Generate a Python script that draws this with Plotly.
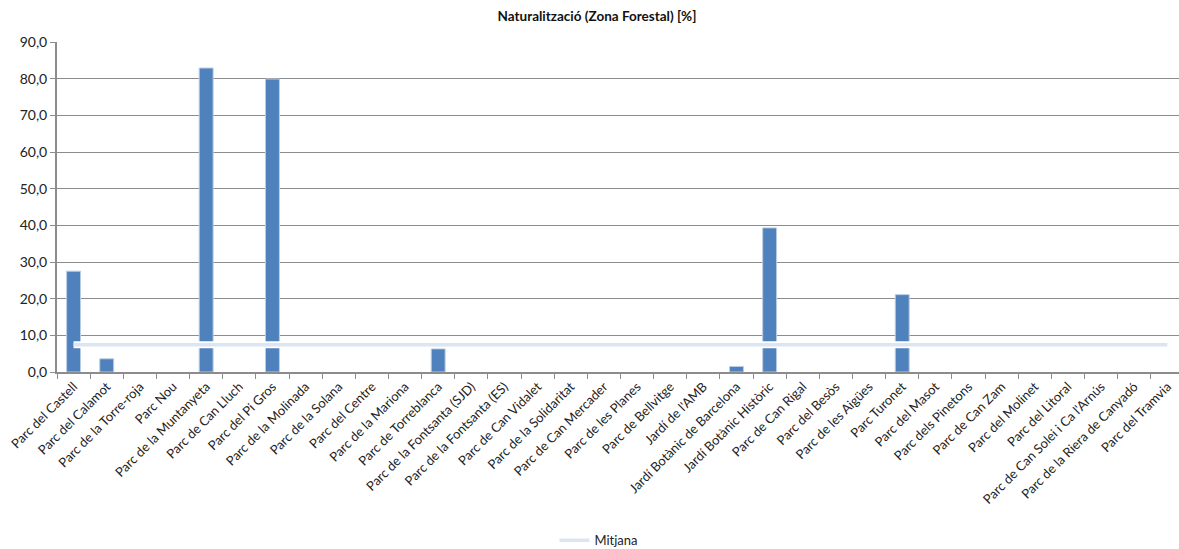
import plotly.graph_objects as go

# Parks and their forest-zone naturalisation share (%)
parks = [
    "Parc del Castell", "Parc del Calamot", "Parc de la Torre-roja", "Parc Nou",
    "Parc de la Muntanyeta", "Parc de Can Lluch", "Parc del Pi Gros",
    "Parc de la Molinada", "Parc de la Solana", "Parc del Centre",
    "Parc de la Mariona", "Parc de Torreblanca", "Parc de la Fontsanta (SJD)",
    "Parc de la Fontsanta (ES)", "Parc de Can Vidalet", "Parc de la Solidaritat",
    "Parc de Can Mercader", "Parc de les Planes", "Parc de Bellvitge",
    "Jardí de l'AMB", "Jardí Botànic de Barcelona", "Jardí Botànic Històric",
    "Parc de Can Rigal", "Parc del Besòs", "Parc de les Aigües", "Parc Turonet",
    "Parc del Masot", "Parc dels Pinetons", "Parc de Can Zam", "Parc del Molinet",
    "Parc del Litoral", "Parc de Can Solei i Ca l'Arnús",
    "Parc de la Riera de Canyadó", "Parc del Tramvia",
]

naturalitzacio = [
    27.5, 3.6, 0, 0, 82.9, 0, 79.9, 0, 0, 0, 0, 6.3, 0, 0, 0, 0, 0, 0, 0, 0,
    1.5, 39.3, 0, 0, 0, 21.1, 0, 0, 0, 0, 0, 0, 0, 0,
]

mitjana_valor = 7.4
mitjana = [mitjana_valor] * len(parks)

y_ticks = [0, 10, 20, 30, 40, 50, 60, 70, 80, 90]

FONT = "Lato"
BAR_COLOR = "#4F81BD"
AVG_COLOR = "#DCE6F2"
GRID = "#8C8C8C"

# outline only the bars that actually have height
outline_w = [1 if v > 0 else 0 for v in naturalitzacio]

fig = go.Figure()

fig.add_trace(go.Bar(
    x=parks, y=naturalitzacio,
    marker=dict(color=BAR_COLOR, line=dict(color="#B9CDE5", width=outline_w)),
    width=0.42,
    showlegend=False,
    hoverinfo="x+y",
))

# white halo under the average line
fig.add_trace(go.Scatter(
    x=parks, y=mitjana, mode="lines",
    line=dict(color="white", width=7),
    showlegend=False, hoverinfo="skip",
))

fig.add_trace(go.Scatter(
    x=parks, y=mitjana, mode="lines", name="Mitjana",
    line=dict(color=AVG_COLOR, width=3.5),
))

fig.update_layout(
    width=1179, height=549,
    margin=dict(l=57, r=0, t=42, b=177, autoexpand=False),
    paper_bgcolor="white", plot_bgcolor="white",
    separators=",.",
    font=dict(family=FONT, size=13, color="#222222"),
    title=dict(
        text="<b>Naturalització (Zona Forestal) [%]</b>",
        x=597 / 1179, xanchor="center", y=1 - 16 / 549, yanchor="middle",
        font=dict(family=FONT, size=13.5, color="#111111"),
    ),
    bargap=0.58,
    showlegend=True,
    legend=dict(
        orientation="h", x=0.483, xanchor="center", y=-0.51, yanchor="middle",
        font=dict(family=FONT, size=13, color="#222222"),
        bgcolor="rgba(0,0,0,0)",
    ),
)

fig.update_xaxes(
    type="category",
    range=[-0.5, 33.35],
    tickangle=-45,
    tickson="boundaries",
    ticks="outside", ticklen=5, tickcolor=GRID, tickwidth=1,
    showline=True, linecolor=GRID, linewidth=2,
    showgrid=False,
    tickfont=dict(family=FONT, size=13, color="#222222"),
)

fig.update_yaxes(
    range=[0, 90],
    tickvals=y_ticks,
    tickformat=".1f",
    ticks="outside", ticklen=5, tickcolor=GRID,
    showline=True, linecolor=GRID, linewidth=2,
    showgrid=True, gridcolor=GRID, gridwidth=1,
    zeroline=False,
    tickfont=dict(family=FONT, size=14, color="#222222"),
)

fig.write_html("out.html")
